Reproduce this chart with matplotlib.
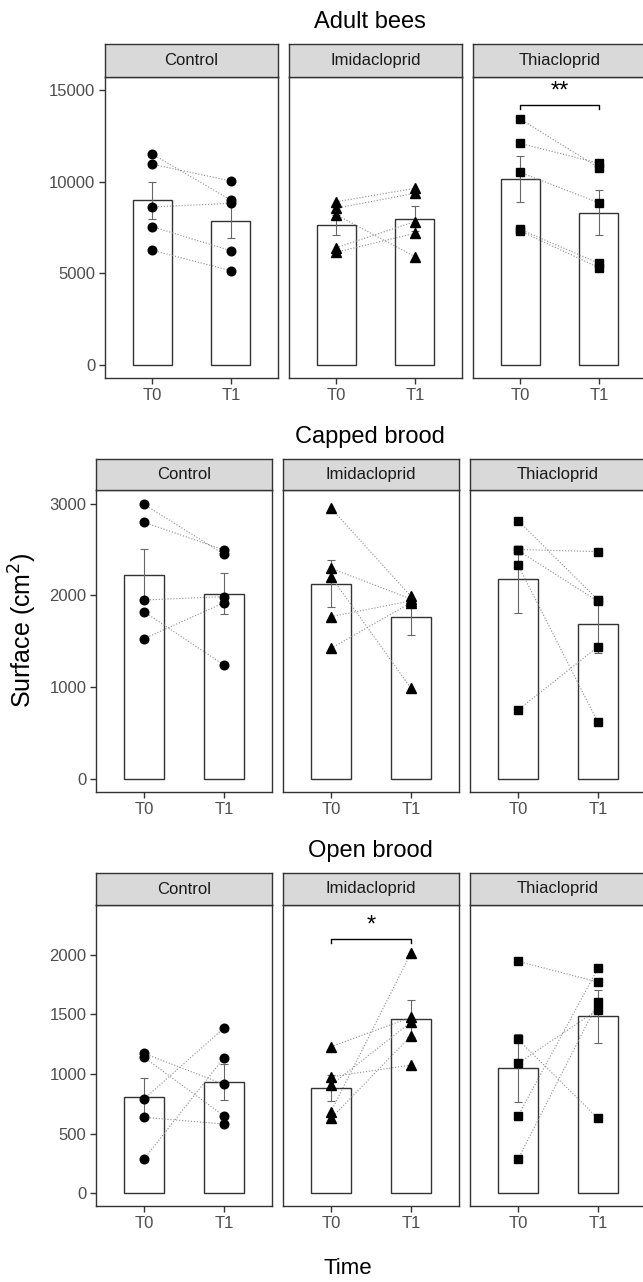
import numpy as np
import matplotlib
matplotlib.use("Agg")
import matplotlib.pyplot as plt

plt.rcParams['font.family'] = ['Liberation Sans', 'DejaVu Sans']

rows = ['Adult bees', 'Capped brood', 'Open brood']
treatments = ['Control', 'Imidacloprid', 'Thiacloprid']
times = ['T0', 'T1']

# surface (cm2) per colony, colony i at T0 is paired with colony i at T1
adult_t0 = {'Control': [11510, 10950, 8620, 7545, 6260],
            'Imidacloprid': [8900, 8550, 8200, 6400, 6150],
            'Thiacloprid': [13420, 12090, 10510, 7400, 7310]}
adult_t1 = {'Control': [9000, 10040, 8820, 6235, 5145],
            'Imidacloprid': [9640, 9370, 5910, 7820, 7185],
            'Thiacloprid': [10760, 11000, 8850, 5550, 5310]}

capped_t0 = {'Control': [2993, 2797, 1949, 1822, 1527],
             'Imidacloprid': [2950, 2295, 2204, 1767, 1422],
             'Thiacloprid': [2815, 2500, 2490, 2331, 749]}
capped_t1 = {'Control': [2448, 2495, 1986, 1240, 1920],
             'Imidacloprid': [1990, 1960, 986, 1940, 1920],
             'Thiacloprid': [1950, 2477, 1935, 615, 1440]}

open_t0 = {'Control': [1173, 1140, 790, 637, 287],
           'Imidacloprid': [1229, 977, 908, 684, 628],
           'Thiacloprid': [1944, 1290, 1089, 648, 285]}
open_t1 = {'Control': [913, 648, 1385, 581, 1136],
           'Imidacloprid': [1475, 1075, 1435, 2014, 1320],
           'Thiacloprid': [1771, 628, 1540, 1886, 1600]}

data_t0 = [adult_t0, capped_t0, open_t0]
data_t1 = [adult_t1, capped_t1, open_t1]

y_ticks = [[0, 5000, 10000, 15000], [0, 1000, 2000, 3000], [0, 500, 1000, 1500, 2000]]
y_lims = [(-709, 15710), (-145, 3149), (-106, 2416)]

# significant T0 vs T1 differences (row, treatment, label)
signif = [('Adult bees', 'Thiacloprid', '**'), ('Open brood', 'Imidacloprid', '*')]

markers = {'Control': ('o', 6.2), 'Imidacloprid': ('^', 7.5), 'Thiacloprid': ('s', 6.0)}

# ------------------------------------------------------------------ #
# layout in pixels
W, H = 643, 1282
fig = plt.figure(figsize=(W / 100, H / 100), dpi=100)

def box(x0, y0, x1, y1):
    return [x0 / W, 1 - y1 / H, (x1 - x0) / W, (y1 - y0) / H]

row_top = [77, 490, 905]
row_bottom = [378, 792, 1206]
strip_h = [33, 31, 32]
col_x = [[105, 289, 473], [96, 283, 470], [96, 283, 470]]
panel_w = [173, 176, 176]
title_y = [28, 443, 857]

dark = '#333333'
txt = '#4d4d4d'

for r, row in enumerate(rows):
    fig.text(370 / W, 1 - title_y[r] / H, row, ha='center', va='baseline',
             fontsize=17, color='black')
    for c, tr in enumerate(treatments):
        x0 = col_x[r][c]
        x1 = x0 + panel_w[r]
        ax = fig.add_axes(box(x0, row_top[r], x1, row_bottom[r]))
        sax = fig.add_axes(box(x0, row_top[r] - strip_h[r], x1, row_top[r]))

        v0 = np.array(data_t0[r][tr], dtype=float)
        v1 = np.array(data_t1[r][tr], dtype=float)
        means = [v0.mean(), v1.mean()]
        ses = [v0.std(ddof=1) / np.sqrt(len(v0)), v1.std(ddof=1) / np.sqrt(len(v1))]
        xpos = np.arange(len(times))

        ax.bar(xpos, means, width=0.5, color='white', edgecolor=dark, linewidth=1.0, zorder=1)
        ax.errorbar(xpos, means, yerr=ses, fmt='none', ecolor='#666666', elinewidth=0.8,
                    capsize=3, capthick=0.8, zorder=2)
        for a, b in zip(v0, v1):
            ax.plot([0, 1], [a, b], linestyle=':', color='#8c8c8c', linewidth=0.8, zorder=3)
        mk, ms = markers[tr]
        ax.plot(np.zeros(len(v0)), v0, linestyle='none', marker=mk, markersize=ms,
                color='black', zorder=4)
        ax.plot(np.ones(len(v1)), v1, linestyle='none', marker=mk, markersize=ms,
                color='black', zorder=4)

        lo, hi = y_lims[r]
        span = hi - lo
        for srow, str_, lab in signif:
            if srow == row and str_ == tr:
                yb = max(v0.max(), v1.max()) + 0.045 * span
                ax.plot([0, 0, 1, 1], [yb - 0.012 * span, yb, yb, yb - 0.012 * span],
                        color='black', linewidth=1.0, zorder=5)
                ax.text(0.5, yb + 0.008 * span, lab, ha='center', va='bottom',
                        fontsize=17, color='black')

        ax.set_xlim(-0.6, 1.6)
        ax.set_ylim(lo, hi)
        ax.set_xticks(xpos)
        ax.set_xticklabels(times)
        ax.set_yticks(y_ticks[r])
        ax.tick_params(axis='both', direction='out', length=4, width=1.0, color=dark,
                       labelcolor=txt, labelsize=12, pad=3)
        if c > 0:
            ax.tick_params(axis='y', left=False, labelleft=False)
        for s in ax.spines.values():
            s.set_color(dark)
            s.set_linewidth(1.0)

        sax.set_facecolor('#d9d9d9')
        sax.set_xticks([])
        sax.set_yticks([])
        for s in sax.spines.values():
            s.set_color(dark)
            s.set_linewidth(1.0)
        sax.text(0.5, 0.5, tr, ha='center', va='center', fontsize=12, color='#1a1a1a',
                 transform=sax.transAxes)

fig.text(23 / W, 1 - 630 / H, 'Surface (cm$^2$)', rotation=90, ha='center', va='center',
         fontsize=18)
fig.text(348 / W, 1 - 1268 / H, 'Time', ha='center', va='center', fontsize=16)

fig.savefig('out.png', dpi=100)
